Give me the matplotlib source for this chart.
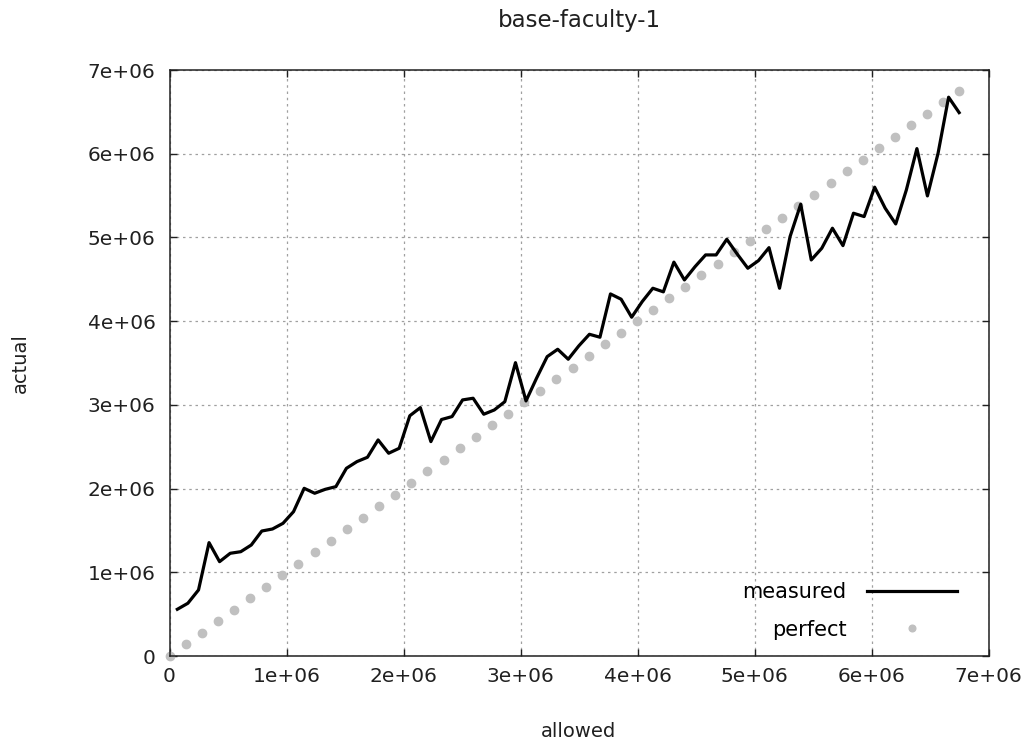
import matplotlib
matplotlib.use("Agg")
from matplotlib import pyplot as plt

# measured run (allowed / actual, in units of 1e6)
measured_x = [0.067, 0.157, 0.248, 0.338, 0.428, 0.519, 0.609, 0.699, 0.789, 0.880,
              0.970, 1.060, 1.151, 1.241, 1.331, 1.422, 1.512, 1.602, 1.692, 1.783,
              1.873, 1.963, 2.054, 2.144, 2.234, 2.325, 2.415, 2.505, 2.595, 2.686,
              2.776, 2.866, 2.957, 3.047, 3.137, 3.228, 3.318, 3.408, 3.498, 3.589,
              3.679, 3.769, 3.860, 3.950, 4.040, 4.131, 4.221, 4.311, 4.401, 4.492,
              4.582, 4.672, 4.763, 4.853, 4.943, 5.034, 5.124, 5.214, 5.304, 5.395,
              5.485, 5.575, 5.666, 5.756, 5.846, 5.937, 6.027, 6.117, 6.207, 6.298,
              6.388, 6.478, 6.569, 6.659, 6.749]
measured_y = [0.558, 0.630, 0.789, 1.354, 1.127, 1.227, 1.246, 1.326, 1.493, 1.517,
              1.585, 1.724, 2.003, 1.944, 1.991, 2.023, 2.242, 2.322, 2.374, 2.581,
              2.422, 2.481, 2.870, 2.967, 2.561, 2.825, 2.860, 3.059, 3.079, 2.888,
              2.939, 3.038, 3.504, 3.047, 3.318, 3.576, 3.664, 3.545, 3.704, 3.843,
              3.808, 4.325, 4.262, 4.047, 4.233, 4.393, 4.350, 4.705, 4.492, 4.651,
              4.791, 4.791, 4.978, 4.800, 4.632, 4.723, 4.878, 4.393, 5.010, 5.397,
              4.731, 4.871, 5.110, 4.902, 5.289, 5.249, 5.600, 5.349, 5.161, 5.568,
              6.061, 5.496, 6.006, 6.675, 6.491]

# perfect line: actual == allowed
perfect_x = [0.000, 0.138, 0.276, 0.413, 0.551, 0.689, 0.827, 0.965, 1.102, 1.240,
             1.378, 1.516, 1.654, 1.791, 1.929, 2.067, 2.205, 2.343, 2.480, 2.618,
             2.756, 2.894, 3.032, 3.169, 3.307, 3.445, 3.583, 3.721, 3.858, 3.996,
             4.134, 4.272, 4.410, 4.547, 4.685, 4.823, 4.961, 5.099, 5.236, 5.374,
             5.512, 5.650, 5.788, 5.925, 6.063, 6.201, 6.339, 6.477, 6.614, 6.752]
perfect_y = list(perfect_x)

ticks = [0, 1, 2, 3, 4, 5, 6, 7]
tick_labels = ["0", "1e+06", "2e+06", "3e+06", "4e+06", "5e+06", "6e+06", "7e+06"]

plt.rcParams['font.family'] = ['DejaVu Sans']

fig = plt.figure(figsize=(10.27, 7.45), dpi=100)
ax = fig.add_axes([169.5 / 1027, 1 - 656 / 745, 819 / 1027, 586 / 745])

ax.plot(measured_x, measured_y, color="black", lw=2.3, label="measured", zorder=3)
ax.plot(perfect_x, perfect_y, ls="none", marker="o", ms=6, color="#c0c0c0",
        label="perfect", zorder=2, clip_on=False)

ax.set_xlim(0, 7)
ax.set_ylim(0, 7)
ax.set_xticks(ticks)
ax.set_xticklabels(tick_labels)
ax.set_yticks(ticks)
ax.set_yticklabels(tick_labels)

ax.grid(True, color="#a0a0a0", lw=0.9, ls=(0, (2, 3)))
ax.set_axisbelow(True)
ax.tick_params(direction="in", length=5, width=1, top=True, right=True,
               labelsize=14.5, colors="#202020")
ax.tick_params(axis="x", pad=8)
ax.tick_params(axis="y", pad=10)
for s in ax.spines.values():
    s.set_linewidth(1.1)
    s.set_color("#202020")

ax.set_title("base-faculty-1", fontsize=16.5, pad=31, color="#202020")
ax.set_xlabel("allowed", fontsize=14, labelpad=26, color="#202020")
ax.set_ylabel("actual", fontsize=14, labelpad=42, color="#202020")

leg = ax.legend(loc="lower right", bbox_to_anchor=(0.9615, 0.028), markerfirst=False,
                frameon=False, fontsize=15, handlelength=4.3, handletextpad=1.0,
                labelspacing=0.84, borderpad=0, borderaxespad=0, markerscale=0.8)

fig.savefig("out.png", dpi=100)
